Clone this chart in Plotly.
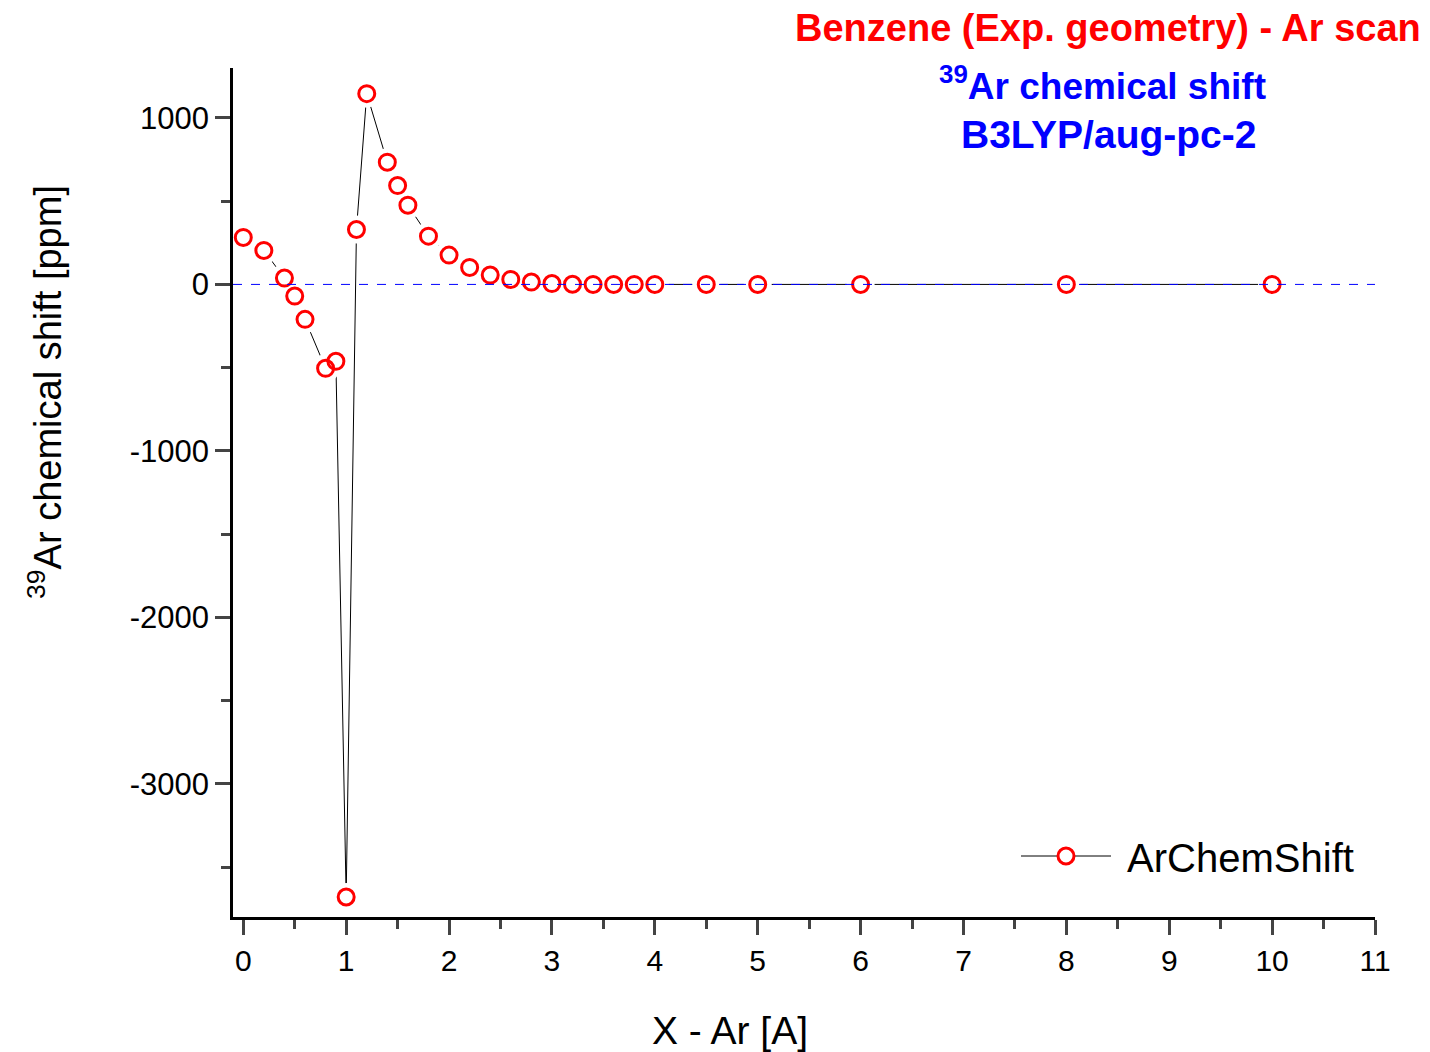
import plotly.graph_objects as go

x_dist = [0.0, 0.2, 0.4, 0.5, 0.6, 0.8, 0.9, 1.0, 1.1, 1.2, 1.4, 1.5, 1.6, 1.8, 2.0,
          2.2, 2.4, 2.6, 2.8, 3.0, 3.2, 3.4, 3.6, 3.8, 4.0, 4.5, 5.0, 6.0, 8.0, 10.0]
chem_shift = [282, 204, 38, -70, -210, -504, -462, -3680, 330, 1146, 734, 594, 476, 290, 176,
              102, 56, 30, 14, 5, 1, 0, 0, 0, 0, 0, 0, 0, 0, 0]

x_ticks = list(range(0, 12))
x_tick_labels = [str(v) for v in x_ticks]
y_ticks = [-3000, -2000, -1000, 0, 1000]
y_tick_labels = ["-3000", "-2000", "-1000", "0", "1000"]

FONT = "Liberation Sans, Arial, sans-serif"

fig = go.Figure()
# connecting line
fig.add_trace(go.Scatter(x=x_dist, y=chem_shift, mode="lines", showlegend=False,
                         line=dict(color="black", width=1), hoverinfo="skip"))
# white halos: gap in the line around each symbol
fig.add_trace(go.Scatter(x=x_dist, y=chem_shift, mode="markers", showlegend=False,
                         marker=dict(symbol="circle", size=28, color="white",
                                     line=dict(width=0)), hoverinfo="skip"))
# hollow red circles
fig.add_trace(go.Scatter(x=x_dist, y=chem_shift, mode="markers", showlegend=False,
                         name="ArChemShift",
                         marker=dict(symbol="circle-open", size=16, color="red",
                                     line=dict(color="red", width=3))))
# legend entry
fig.add_trace(go.Scatter(x=[None], y=[None], mode="lines+markers",
                         name="\u00a0ArChemShift",
                         line=dict(color="black", width=1),
                         marker=dict(symbol="circle", size=16, color="white",
                                     line=dict(color="red", width=3))))

fig.add_shape(type="line", xref="paper", yref="y", x0=0, x1=1, y0=0, y1=0,
              line=dict(color="blue", width=1, dash="dash"), layer="above")

fig.update_layout(
    width=1430, height=1052,
    margin=dict(l=233, r=55, t=68, b=135),
    paper_bgcolor="white", plot_bgcolor="white",
    font=dict(family=FONT, color="black"),
    showlegend=True,
    legend=dict(x=(1359 - 233) / 1142, y=(917 - 856) / 849, xanchor="right", yanchor="middle",
                font=dict(size=40, family=FONT), bgcolor="rgba(0,0,0,0)",
                itemwidth=90),
    xaxis=dict(range=[-0.1, 11], tickmode="array", tickvals=x_ticks, ticktext=x_tick_labels,
               showgrid=False, zeroline=False, showline=True, linecolor="black",
               linewidth=2.5, ticks="outside", ticklen=15, tickwidth=2.5,
               tickfont=dict(size=30, family=FONT),
               minor=dict(dtick=0.5, tick0=0, ticks="outside", ticklen=9, tickwidth=2.5,
                          showgrid=False)),
    yaxis=dict(range=[-3800, 1300], tickmode="array", tickvals=y_ticks, ticktext=y_tick_labels,
               showgrid=False, zeroline=False, showline=True, linecolor="black",
               linewidth=2.5, ticks="outside", ticklen=15, tickwidth=2.5,
               tickfont=dict(size=31, family=FONT),
               minor=dict(dtick=500, tick0=0, ticks="outside", ticklen=9, tickwidth=2.5,
                          showgrid=False)),
)

# axis titles
fig.add_annotation(text="X - Ar [A]", xref="paper", yref="paper",
                   x=(730 - 233) / 1142, y=(917 - 1030) / 849, showarrow=False,
                   font=dict(size=39, family=FONT, color="black"),
                   xanchor="center", yanchor="middle")
fig.add_annotation(text="<sup>39</sup>Ar chemical shift [ppm]", xref="paper", yref="paper",
                   x=(45 - 233) / 1142, y=(917 - 392) / 849, showarrow=False, textangle=-90,
                   font=dict(size=38, family=FONT, color="black"),
                   xanchor="center", yanchor="middle")

# titles
fig.add_annotation(text="<b>Benzene (Exp. geometry) - Ar scan</b>", xref="paper", yref="paper",
                   x=(1108 - 233) / 1142, y=(917 - 28) / 849, showarrow=False,
                   font=dict(size=38, color="red", family=FONT), xanchor="center", yanchor="middle")
fig.add_annotation(text="<b><sup>39</sup>Ar chemical shift</b>", xref="paper", yref="paper",
                   x=(1102 - 233) / 1142, y=(917 - 83) / 849, showarrow=False,
                   font=dict(size=37, color="blue", family=FONT), xanchor="center", yanchor="middle")
fig.add_annotation(text="<b>B3LYP/aug-pc-2</b>", xref="paper", yref="paper",
                   x=(1108 - 233) / 1142, y=(917 - 134) / 849, showarrow=False,
                   font=dict(size=39, color="blue", family=FONT), xanchor="center", yanchor="middle")

fig.write_html("out.html")
